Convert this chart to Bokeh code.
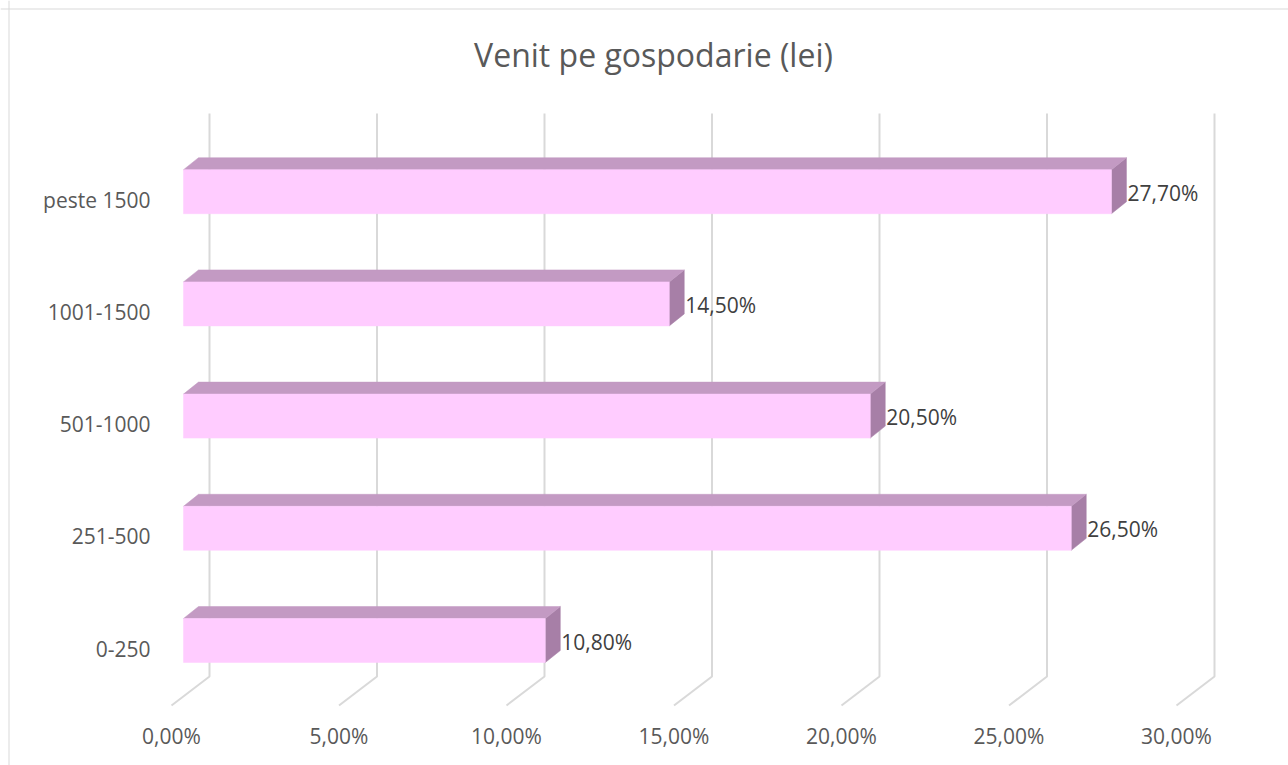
from bokeh.plotting import figure
from bokeh.models import Label, Span
from bokeh.core.properties import value
from bokeh.embed import file_html
from bokeh.resources import INLINE

# ---- data ----
categories = ["0-250", "251-500", "501-1000", "1001-1500", "peste 1500"]
values = [10.8, 26.5, 20.5, 14.5, 27.7]
value_labels = ["10,80%", "26,50%", "20,50%", "14,50%", "27,70%"]
ticks = [0, 5, 10, 15, 20, 25, 30]
tick_labels = ["0,00%", "5,00%", "10,00%", "15,00%", "20,00%", "25,00%", "30,00%"]
title_text = "Venit pe gospodarie (lei)"

# ---- layout constants (pixels) ----
W, H = 1288, 765
PX = 33.5      # px per percent
PY = 112.2     # px per category step
X0 = 171       # canvas px of 0% on front plane
Y0 = 640       # canvas px (from top) of first bar centre
BAR_OFF = 12   # bar front offset from front plane
BAR_H = 44
DEP_X, DEP_Y = 15, 12       # bar depth
FLOOR_X, FLOOR_Y = 38, 29   # floor depth
GRID_TOP = 113
GRID_BACK_BOTTOM = 676
TICK_Y = 735
BORDER = 8
FONT = "Open Sans"
TXT = "#595959"

def dx(px):
    return px / PX

def dy(px):
    return px / PY

p = figure(width=W, height=H, output_backend="svg", toolbar_location=None,
           x_range=(-X0 / PX, (W - X0) / PX), y_range=((Y0 - H) / PY, Y0 / PY),
           min_border=0, min_border_left=0, min_border_right=0,
           min_border_top=0, min_border_bottom=0)
p.xaxis.visible = False
p.yaxis.visible = False
p.grid.visible = False
p.outline_line_color = None
p.background_fill_color = "white"
p.border_fill_color = "white"

# chart border (left and top)
p.add_layout(Span(location=dx(BORDER + 0.5 - X0), dimension="height", line_color="#D9D9D9", line_width=1))
p.add_layout(Span(location=dy(Y0 - BORDER - 0.5), dimension="width", line_color="#D9D9D9", line_width=1))

# gridlines with floor diagonal
gx, gy = [], []
for t in ticks:
    gx.append([t + dx(FLOOR_X), t + dx(FLOOR_X), t])
    gy.append([dy(Y0 - GRID_TOP), dy(Y0 - GRID_BACK_BOTTOM), dy(Y0 - GRID_BACK_BOTTOM - FLOOR_Y)])
p.multi_line(gx, gy, line_color="#D9D9D9", line_width=2)

# tick labels
p.text(x=ticks, y=[dy(Y0 - TICK_Y)] * len(ticks), text=tick_labels,
       text_font=value(FONT), text_font_size="21px", text_color=TXT,
       text_align="center", text_baseline="middle")

# bars
front_x, front_y, top_x, top_y, side_x, side_y = [], [], [], [], [], []
for i, v in enumerate(values):
    L = dx(BAR_OFF)
    R = v + dx(BAR_OFF)
    T = i + dy(BAR_H / 2)
    B = i - dy(BAR_H / 2)
    front_x.append([L, R, R, L]); front_y.append([B, B, T, T])
    top_x.append([L, R, R + dx(DEP_X), L + dx(DEP_X)])
    top_y.append([T, T, T + dy(DEP_Y), T + dy(DEP_Y)])
    side_x.append([R, R + dx(DEP_X), R + dx(DEP_X), R])
    side_y.append([T, T + dy(DEP_Y), B + dy(DEP_Y), B])

p.patches(side_x, side_y, fill_color="#A77FA7", line_color="#A77FA7", line_width=0.5)
p.patches(top_x, top_y, fill_color="#C39AC3", line_color="#C39AC3", line_width=0.5)
p.patches(front_x, front_y, fill_color="#FFCCFF", line_color="#FFCCFF", line_width=0.5)

# value labels
ys = list(range(len(values)))
p.text(x=[v + dx(BAR_OFF + DEP_X + 1) for v in values], y=ys, text=value_labels,
       text_font=value(FONT), text_font_size="21px", text_color="#404040",
       text_align="left", text_baseline="middle", y_offset=1)

# category labels
p.text(x=[dx(150 - X0)] * len(categories), y=ys, text=categories,
       text_font=value(FONT), text_font_size="21px", text_color=TXT,
       text_align="right", text_baseline="middle", y_offset=8)

# title
p.add_layout(Label(x=653, y=H - 54, x_units="screen", y_units="screen", text=title_text,
                   text_font=FONT, text_font_size="32px", text_color=TXT,
                   text_align="center", text_baseline="middle"))

open("out.html", "w").write(file_html(p, INLINE))
